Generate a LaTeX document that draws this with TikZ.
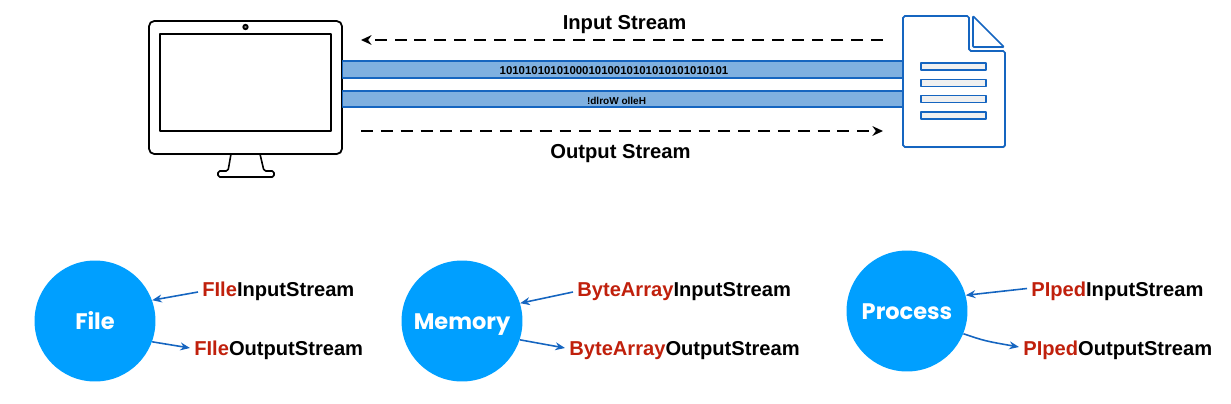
\documentclass[tikz,border=0pt]{standalone}
\usepackage{fontspec}
\usetikzlibrary{arrows.meta,shadows}
\setmainfont{Liberation Sans}
\newfontfamily\circlefont{Poppins}
\definecolor{barblue}{HTML}{7FB0E0}
\definecolor{lineblue}{HTML}{1565C0}
\definecolor{circleblue}{HTML}{009FFF}
\definecolor{namered}{HTML}{C0200C}
\tikzset{
	soft/.style={drop shadow={opacity=0.25,shadow xshift=0.3pt,shadow yshift=-0.7pt}},
	bar/.style={draw=lineblue,line width=0.6pt,fill=barblue,soft,minimum width=11.22cm,inner sep=0pt},
	stream/.style={circle,fill=circleblue,text=white,minimum size=2.42cm,inner sep=0pt,text height=9.5pt,text depth=0pt,font=\circlefont\fontsize{12.8pt}{15pt}\bfseries},
	streamname/.style={anchor=west,inner sep=0pt,font=\fontsize{11.45pt}{14pt}\bfseries},
	heading/.style={inner sep=0pt,font=\fontsize{11.5pt}{14pt}\bfseries},
	flow/.style={-{Stealth[length=6pt,width=5.5pt]},line width=1.1pt,dash pattern=on 6.8pt off 4.5pt},
	link/.style={-{Stealth[length=5.5pt,width=4.5pt]},lineblue,line width=0.9pt},
	docline/.style={draw=lineblue,line width=0.9pt,fill=gray!12,minimum width=1.3cm,minimum height=0.14cm,inner sep=0pt}
}
\begin{document}
\begin{tikzpicture}[x=0.02cm,y=-0.02cm,line join=round]
	\useasboundingbox (0,0) rectangle (1231,403);
	% computer
	\draw[line width=0.9pt,fill=white,rounded corners=1pt,soft] (231,154)--(228,171)--(218,171)--(218,177)--(274,177)--(274,171)--(264,171)--(260,154);
	\node[draw,fill=white,soft,line width=1pt,rounded corners=3pt,minimum width=3.86cm,minimum height=2.66cm,inner sep=0pt] (monitor) at (245.5,87.5) {};
	\node[draw,line width=1pt,minimum width=3.42cm,minimum height=1.94cm,inner sep=0pt] (screen) at (245.5,82.5) {};
	\node[circle,draw,line width=1pt,fill=gray,minimum size=0.09cm,inner sep=0pt] (camera) at (245.5,27) {};
	% bars
	\node[bar,minimum height=0.34cm] (bitsbar) at (622.5,69.5) {};
	\node[bar,minimum height=0.32cm] (textbar) at (622.5,99) {};
	\node[inner sep=0pt,font=\fontsize{6.5pt}{7pt}\bfseries] (bits) at (614,70.5) {101010101010001010010101010101010101};
	\node[inner sep=0pt,font=\fontsize{5.7pt}{7pt}\bfseries] (hello) at (616.5,100.5) {!dlroW olleH};
	% file
	\draw[lineblue,line width=1pt,fill=white,rounded corners=1pt,soft] (903,16)--(969,16)--(969,51)--(1005,51)--(1005,147)--(903,147)--cycle;
	\draw[lineblue,line width=1pt,fill=white,rounded corners=0.5pt,soft] (973,16)--(1004,47)--(973,47)--cycle;
	\node[docline] (line1) at (953.5,66.5) {};
	\node[docline] (line2) at (953.5,83) {};
	\node[docline] (line3) at (953.5,99) {};
	\node[docline] (line4) at (953.5,115.5) {};
	% flows
	\coordinate (inright) at (883,40);
	\coordinate (inleft) at (361,40);
	\coordinate (outleft) at (361,131);
	\coordinate (outright) at (883,131);
	\draw[flow] (inright)--(inleft);
	\draw[flow] (outleft)--(outright);
	\node[heading] (instream) at (624.5,25) {Input Stream};
	\node[heading] (outstream) at (620.5,154) {Output Stream};
	% streams
	\node[stream] (file) at (95,321) {File};
	\node[stream] (memory) at (462,321) {Memory};
	\node[stream] (process) at (907,311) {Process};
	\node[streamname] (filein) at (202,291.5) {\textcolor{namered}{FIle}InputStream};
	\node[streamname] (fileout) at (194,350.5) {\textcolor{namered}{FIle}OutputStream};
	\node[streamname] (memin) at (577,291.5) {\textcolor{namered}{ByteArray}InputStream};
	\node[streamname] (memout) at (569,350.5) {\textcolor{namered}{ByteArray}OutputStream};
	\node[streamname] (procin) at (1031,291.5) {\textcolor{namered}{PIped}InputStream};
	\node[streamname] (procout) at (1023,350.5) {\textcolor{namered}{PIped}OutputStream};
	\coordinate (fileinstart) at ([shift={(-4,0.5)}]filein.west);
	\coordinate (fileoutend) at ([shift={(-4,-2.5)}]fileout.west);
	\coordinate (meminstart) at ([shift={(-4,0.5)}]memin.west);
	\coordinate (memoutend) at ([shift={(-4,-2.5)}]memout.west);
	\coordinate (procinstart) at ([shift={(-4,-3)}]procin.west);
	\coordinate (procoutend) at ([shift={(-4,-3.5)}]procout.west);
	\draw[link] (fileinstart)--(file.20);
	\draw[link] (file.-20)--(fileoutend);
	\draw[link] (meminstart)--(memory.17);
	\draw[link] (memory.-18)--(memoutend);
	\draw[link] (procinstart)--(process.15);
	\draw[link] (process.-22) .. controls (985,341) .. (procoutend);
\end{tikzpicture}
\end{document}
